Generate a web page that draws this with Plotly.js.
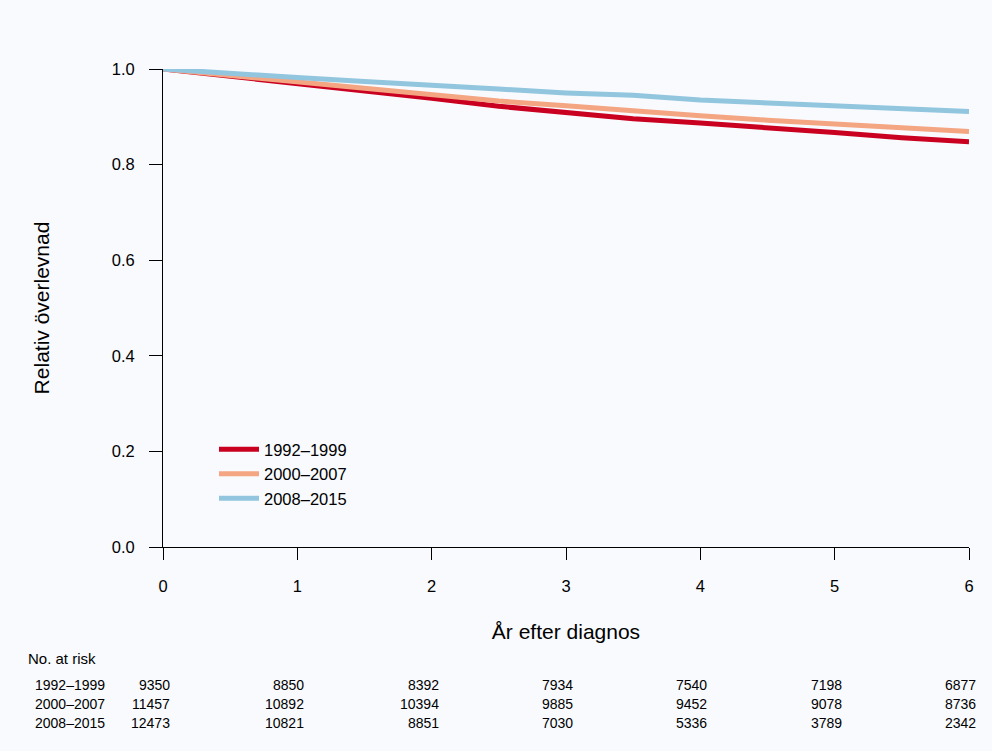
<!DOCTYPE html>
<html>
<head>
<meta charset="utf-8">
<script src="https://cdn.plot.ly/plotly-3.0.1.min.js"></script>
<style>html,body{margin:0;padding:0;background:#f8fafe;}#chart{width:992px;height:751px;}</style>
</head>
<body>
<div id="chart"></div>
<script>
const years = [0, 0.5, 1, 1.5, 2, 2.5, 3, 3.5, 4, 4.5, 5, 5.5, 6];
const periods = ["1992\u20131999", "2000\u20132007", "2008\u20132015"];
const surv1992 = [1.0, 0.985, 0.969, 0.955, 0.939, 0.922, 0.910, 0.896, 0.887, 0.878, 0.867, 0.856, 0.848];
const surv2000 = [1.0, 0.987, 0.974, 0.961, 0.948, 0.933, 0.923, 0.912, 0.902, 0.893, 0.885, 0.877, 0.869];
const surv2008 = [1.0, 0.990, 0.982, 0.974, 0.967, 0.958, 0.950, 0.945, 0.935, 0.929, 0.924, 0.916, 0.911];
const riskTimes = [0, 1, 2, 3, 4, 5, 6];
const risk1992 = [9350, 8850, 8392, 7934, 7540, 7198, 6877];
const risk2000 = [11457, 10892, 10394, 9885, 9452, 9078, 8736];
const risk2008 = [12473, 10821, 8851, 7030, 5336, 3789, 2342];
const yTicks = [0, 0.2, 0.4, 0.6, 0.8, 1.0];
const yTickText = ["0.0", "0.2", "0.4", "0.6", "0.8", "1.0"];
const xTicks = [0, 1, 2, 3, 4, 5, 6];

const colors = ["#ca0020", "#f4a582", "#92c5de"];
const series = [surv1992, surv2000, surv2008];
const risks = [risk1992, risk2000, risk2008];
const font = "Liberation Sans, Arial, sans-serif";

const traces = series.map((s, i) => ({
  x: years, y: s, type: "scatter", mode: "lines", name: periods[i],
  line: {color: colors[i], width: 5, shape: "linear"},
  cliponaxis: false
}));

const T = 69, B = 547, H = B - T;
const py = p => (B - p) / H;
const L = 163, R = 969, W = R - L;
const px = p => (p - L) / W;

const annotations = [];
annotations.push({xref: "paper", yref: "paper", x: px(26), y: py(658), text: "No. at risk",
  showarrow: false, xanchor: "left", yanchor: "middle", font: {family: font, size: 15, color: "#000"}});
const rowY = [685, 704, 723];
risks.forEach((r, i) => {
  annotations.push({xref: "paper", yref: "paper", x: px(33), y: py(rowY[i]), text: periods[i],
    showarrow: false, xanchor: "left", yanchor: "middle", font: {family: font, size: 14, color: "#000"}});
  r.forEach((v, j) => {
    annotations.push({xref: "x", yref: "paper", x: riskTimes[j], y: py(rowY[i]), text: String(v),
      showarrow: false, xanchor: "right", yanchor: "middle", xshift: 9,
      font: {family: font, size: 14, color: "#000"}});
  });
});

const layout = {
  width: 992, height: 751,
  paper_bgcolor: "#f8fafe", plot_bgcolor: "#f8fafe",
  margin: {l: L, r: 992 - R, t: T, b: 751 - B, pad: 0},
  font: {family: font, color: "#000"},
  showlegend: true,
  legend: {x: px(214), y: py(432), xanchor: "left", yanchor: "top", bgcolor: "rgba(0,0,0,0)",
    font: {family: font, size: 16.5, color: "#000"}, tracegroupgap: 0, itemwidth: 40},
  xaxis: {range: [0, 6], tickvals: xTicks, ticktext: xTicks.map(String), showgrid: false, zeroline: false,
    showline: true, linecolor: "#000", linewidth: 1, ticks: "outside", ticklen: 12, tickcolor: "#000",
    tickfont: {family: font, size: 16.5}, ticklabelstandoff: 12,
    title: {text: "År efter diagnos", font: {family: font, size: 21}, standoff: 30}},
  yaxis: {range: [0, 1], tickvals: yTicks, ticktext: yTickText, showgrid: false, zeroline: false,
    showline: true, linecolor: "#000", linewidth: 1, ticks: "outside", ticklen: 13, tickcolor: "#000",
    tickfont: {family: font, size: 16.5}, ticklabelstandoff: 11,
    title: {text: "Relativ överlevnad", font: {family: font, size: 21}, standoff: 56}},
  annotations: annotations
};

Plotly.newPlot("chart", traces, layout, {displayModeBar: false, staticPlot: true});
</script>
</body>
</html>
